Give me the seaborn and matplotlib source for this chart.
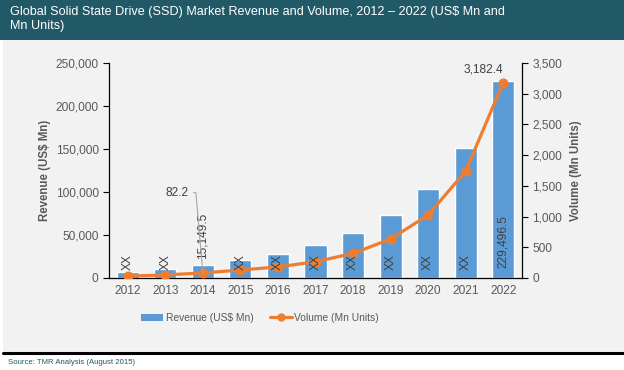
import pandas as pd
import matplotlib.pyplot as plt
import seaborn as sns
from matplotlib.patches import Rectangle
from matplotlib.lines import Line2D
from matplotlib.patches import Patch

# Data
years = ['2012', '2013', '2014', '2015', '2016', '2017', '2018', '2019', '2020', '2021', '2022']
revenue = [7000, 10500, 15149.5, 21000, 28000, 38500, 52000, 73000, 103500, 151000, 229496.5]
volume = [30, 50, 82.2, 130, 180, 265, 400, 635, 1025, 1740, 3182.4]
bar_labels = ['XX', 'XX', '15,149.5', 'XX', 'XX', 'XX', 'XX', 'XX', 'XX', 'XX', '229,496.5']

BAR_BLUE = '#5b9bd5'
LINE_ORANGE = '#ed7d31'
TEAL = '#215967'
GRAY_TXT = '#595959'

sns.set_theme(style='white')
plt.rcParams['font.family'] = ['Liberation Sans', 'DejaVu Sans']

df = pd.DataFrame({'year': years, 'revenue': revenue, 'volume': volume})

fig = plt.figure(figsize=(6.24, 3.70), dpi=100)
fig.patch.set_facecolor('white')

# background panel, title band, bottom rule
fig.patches.append(Rectangle((3 / 624, 1 - 353 / 370), 621 / 624, 313 / 370,
                             transform=fig.transFigure, facecolor='#f2f2f2', edgecolor='none', zorder=-10))
fig.patches.append(Rectangle((0, 1 - 40 / 370), 1, 40 / 370,
                             transform=fig.transFigure, facecolor=TEAL, edgecolor='none', zorder=-10))
fig.lines.append(Line2D([3 / 624, 1], [1 - 353 / 370, 1 - 353 / 370], transform=fig.transFigure,
                        color='black', lw=2.2, zorder=-5))

fig.text(10 / 624, 1 - 6 / 370, 'Global Solid State Drive (SSD) Market Revenue and Volume, 2012 \u2013 2022 (US$ Mn and\nMn Units)',
         color='white', fontsize=9.1, va='top', ha='left', linespacing=1.2)
fig.text(8 / 624, 1 - 362 / 370, 'Source: TMR Analysis (August 2015)', color=TEAL, fontsize=5.6, va='center')

ax = fig.add_axes([109 / 624, 1 - 278 / 370, 413 / 624, 215 / 370])
ax.set_facecolor('#f2f2f2')
sns.barplot(data=df, x='year', y='revenue', color=BAR_BLUE, saturation=1, width=0.59, ax=ax, zorder=2)
ax.set_ylim(0, 250000)
ax.set_yticks(range(0, 250001, 50000))
ax.set_yticklabels([f'{v:,}' for v in range(0, 250001, 50000)])
ax.set_xlim(-0.5, len(years) - 0.5)
ax.set_xlabel('')
ax.set_ylabel('Revenue (US$ Mn)', fontsize=8.3, fontweight='bold', color=GRAY_TXT, labelpad=3)

ax2 = ax.twinx()
sns.pointplot(data=df, x='year', y='volume', color=LINE_ORANGE, markers='o', markersize=5.5,
              linewidth=2.3, ax=ax2)
ax2.set_ylim(0, 3500)
ax2.set_yticks(range(0, 3501, 500))
ax2.set_yticklabels([f'{v:,}' for v in range(0, 3501, 500)])
ax2.set_xlim(-0.5, len(years) - 0.5)
ax2.set_xlabel('')
ax2.set_ylabel('Volume (Mn Units)', fontsize=8.3, fontweight='bold', color=GRAY_TXT, labelpad=6)

for a in (ax, ax2):
    for s in a.spines.values():
        s.set_visible(False)
    a.tick_params(axis='y', colors=GRAY_TXT, labelsize=8.6, length=4, width=0.8, color='black', direction='out')
    a.tick_params(axis='x', colors=GRAY_TXT, labelsize=8.6, length=0, pad=5)
ax.spines['left'].set_visible(True)
ax.spines['bottom'].set_visible(True)
ax2.spines['right'].set_visible(True)
for s in (ax.spines['left'], ax.spines['bottom'], ax2.spines['right']):
    s.set_color('black')
    s.set_linewidth(0.9)
ax.tick_params(axis='y', left=True)
ax2.tick_params(axis='y', right=True)

# bar labels (drawn on ax2 coordinates converted, so they sit above the line)
for i, lab in enumerate(bar_labels):
    if lab == 'XX':
        ax2.text(i, 9500 * 3500 / 250000, lab, rotation=90, ha='center', va='bottom', fontsize=8.6,
                 color='#404040', zorder=5)
ax.text(2, revenue[2] + 7000, bar_labels[2], rotation=90, ha='center', va='bottom', fontsize=8.6, color='#404040')
ax2.text(10, 12000 * 3500 / 250000, bar_labels[10], rotation=90, ha='center', va='bottom', fontsize=8.6,
         color='#404040', zorder=5)

# volume labels
ax2.annotate(f'{volume[2]:,}', xy=(2, volume[2]), xytext=(1.63, 1390), ha='right', va='center',
             fontsize=8.6, color='#404040',
             arrowprops=dict(arrowstyle='-', color='#a6a6a6', lw=0.8, shrinkA=1, shrinkB=0,
                             connectionstyle='angle,angleA=0,angleB=95,rad=0'))
ax2.text(10, volume[10] + 120, f'{volume[10]:,}', ha='right', va='bottom', fontsize=8.6, color='#404040')

# legend
handles = [Patch(facecolor=BAR_BLUE, edgecolor='none', label='Revenue (US$ Mn)'),
           Line2D([], [], color=LINE_ORANGE, lw=2.3, marker='o', markersize=5, label='Volume (Mn Units)')]
fig.legend(handles=handles, loc='center', bbox_to_anchor=(260 / 624, 1 - 318 / 370), ncol=2, frameon=False,
           fontsize=7.4, labelcolor=GRAY_TXT, handlelength=2.2, handletextpad=0.2, columnspacing=1.6)

fig.savefig('out.png', dpi=100, facecolor=fig.get_facecolor())
